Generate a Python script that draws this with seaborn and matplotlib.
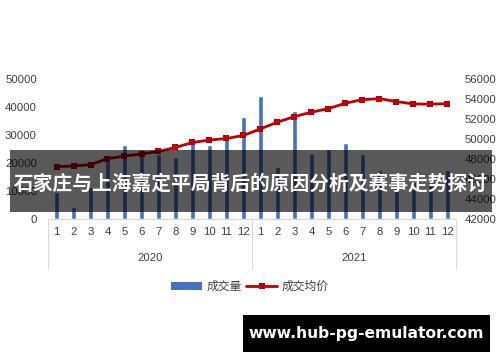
import matplotlib
matplotlib.use("Agg")
import matplotlib.pyplot as plt
import seaborn as sns
import pandas as pd
import numpy as np
from matplotlib.patches import Rectangle, Patch
from matplotlib.lines import Line2D

months = ["1","2","3","4","5","6","7","8","9","10","11","12",
          "1","2","3","4","5","6","7","8","9","10","11","12"]
years = ["2020", "2021"]
volume = [9500, 4000, 11200, 21500, 26300, 22700, 23200, 21900, 27000, 26200, 29500, 36200,
          44000, 18500, 38600, 23300, 24900, 27000, 23000, 17400, 13100, 13000, 13000, 17500]
avg_price = [47200, 47270, 47400, 48000, 48270, 48470, 48730, 49130, 49630, 49870, 50030, 50330,
             51000, 51670, 52230, 52670, 53030, 53570, 53930, 54030, 53730, 53500, 53470, 53530]
title_text = "石家庄与上海嘉定平局背后的原因分析及赛事走势探讨"
watermark = "www.hub-pg-emulator.com"
vol_label = "成交量"
price_label = "成交均价"

sns.set_theme(style="white")
plt.rcParams["font.family"] = ["Liberation Sans", "Noto Sans CJK SC", "DejaVu Sans"]

df = pd.DataFrame({"idx": np.arange(len(volume)), "volume": volume, "price": avg_price})

fig = plt.figure(figsize=(5.0, 3.62), dpi=100)
ax = fig.add_axes([0.096, 0.3964, 0.816, 0.3854])
sns.barplot(data=df, x="idx", y="volume", color="#4472C4", saturation=1, width=0.3, ax=ax)
ax.set_ylim(0, 50000)
ax.set_xlim(-0.5, 23.5)
ax.set_yticks([0, 10000, 20000, 30000, 40000, 50000])
ax.set_yticklabels([str(v) for v in [0, 10000, 20000, 30000, 40000, 50000]])
ax.set_xticks(range(24))
ax.set_xticklabels(months)
ax.set_xlabel("")
ax.set_ylabel("")
for s in ["top", "right", "left"]:
    ax.spines[s].set_visible(False)
ax.spines["bottom"].set_color("#d9d9d9")
ax.spines["bottom"].set_linewidth(0.8)
ax.tick_params(axis="both", length=0, labelsize=8.2, labelcolor="#404040")
ax.tick_params(axis="y", pad=8)
ax.tick_params(axis="x", pad=6)

ax2 = ax.twinx()
sns.lineplot(data=df, x="idx", y="price", color="#C00000", linewidth=2, marker="s",
             markersize=4, markeredgewidth=0, ax=ax2)
ax2.set_ylim(42000, 56000)
ax2.set_yticks(np.arange(42000, 56001, 2000))
ax2.set_ylabel("")
ax2.set_xlabel("")
for s in ["top", "right", "left", "bottom"]:
    ax2.spines[s].set_visible(False)
ax2.tick_params(axis="y", length=0, labelsize=8.2, labelcolor="#404040", pad=6)
ax.set_xlim(-0.5, 23.5)

# group separators and year labels
tr = ax.get_xaxis_transform()
for xv in [-0.5, 11.5, 23.5]:
    ax.add_line(Line2D([xv, xv], [0, -0.36], transform=tr, color="#d9d9d9", lw=0.8, clip_on=False))
for i, yl in enumerate(years):
    ax.text(5.5 + 12 * i, -0.28, yl, transform=tr, ha="center", va="center",
            fontsize=8.2, color="#404040")

handles = [Patch(facecolor="#4472C4", edgecolor="none"),
           Line2D([0], [0], color="#C00000", lw=2, marker="s", markersize=4, markeredgewidth=0)]
fig.legend(handles, [vol_label, price_label], loc="center", bbox_to_anchor=(0.5, 1 - 287 / 362),
           ncol=2, frameon=False, fontsize=8.5, handlelength=2.6, columnspacing=0.4,
           handletextpad=0.4, labelcolor="#404040")

# banner
fig.patches.append(Rectangle((10 / 500, 1 - 212 / 362), 482 / 500, 62 / 362,
                             transform=fig.transFigure, facecolor="black", alpha=0.65,
                             edgecolor="none", zorder=10))
fig.text(0.502, 1 - 184 / 362, title_text, ha="center", va="center", color="white",
         fontsize=14.2, fontweight="bold", family=["Noto Sans CJK SC", "DejaVu Sans"], zorder=11)

# watermark
fig.patches.append(Rectangle((243 / 500, 1 - 352 / 362), 247 / 500, 37 / 362,
                             transform=fig.transFigure, facecolor="black",
                             edgecolor="none", zorder=10))
fig.text(366.5 / 500, 1 - 333.5 / 362, watermark, ha="center", va="center", color="white",
         fontsize=11.2, fontweight="bold", family=["DejaVu Sans"], zorder=11)

fig.savefig("out.png", dpi=100)
